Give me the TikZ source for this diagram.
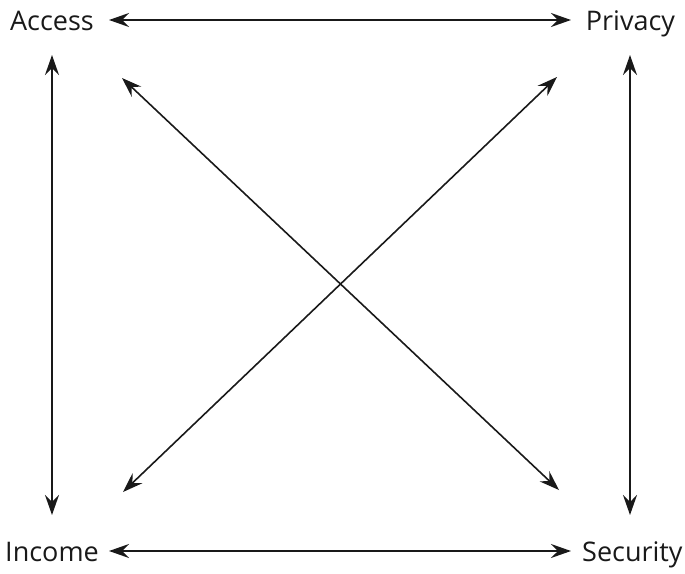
\documentclass[tikz,border=0pt]{standalone}
\usepackage{fontspec}
\setmainfont{Open Sans}
\usetikzlibrary{arrows.meta}
\begin{document}
\begin{tikzpicture}[x=1pt,y=-1pt,
  lbl/.style={inner sep=0pt,font=\fontsize{27}{32}\selectfont,text=black!90},
  link/.style={{Stealth[length=20pt,width=14pt,inset=7pt]}-{Stealth[length=20pt,width=14pt,inset=7pt]},line width=1.6pt,draw=black!90}]
\useasboundingbox (0,0) rectangle (685,573);
\node[lbl,anchor=base] (access) at (52,30) {Access};
\node[lbl,anchor=base] (privacy) at (630.5,30) {Privacy};
\node[lbl,anchor=base] (income) at (52,561) {Income};
\node[lbl,anchor=base west] (security) at (582,561) {Security};
\coordinate (aR) at (109,20);
\coordinate (pL) at (571,20);
\coordinate (iR) at (109,551);
\coordinate (sL) at (571,551);
\coordinate (aD) at (52,55);
\coordinate (iU) at (52,515);
\coordinate (pD) at (630,55);
\coordinate (sU) at (630,515);
\coordinate (aX) at (122,78);
\coordinate (sX) at (559,490);
\coordinate (pX) at (557,77);
\coordinate (iX) at (123,492);
\draw[link] (aR) -- (pL);
\draw[link] (iR) -- (sL);
\draw[link] (aD) -- (iU);
\draw[link] (pD) -- (sU);
\draw[link] (aX) -- (sX);
\draw[link] (pX) -- (iX);
\end{tikzpicture}
\end{document}
